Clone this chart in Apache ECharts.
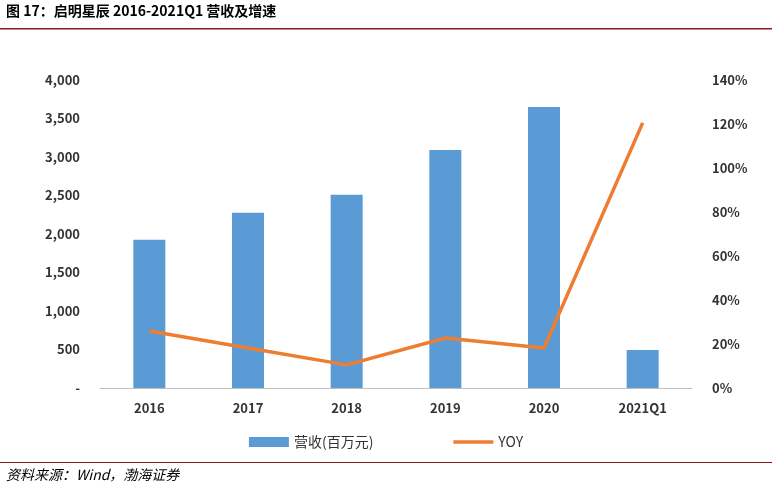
<!DOCTYPE html>
<html lang="zh">
<head>
    <meta charset="utf-8">
    <title>启明星辰 2016-2021Q1 营收及增速</title>
    <style>
        body{margin:0; background:#fff;}
        #container{width: 772px; height: 492px;}
    </style>
</head>
<body>
<div id="container"></div>
<script src="https://cdn.jsdelivr.net/npm/echarts@6/dist/echarts.min.js"></script>
<script>
var years = ['2016', '2017', '2018', '2019', '2020', '2021Q1'];
var revenue = [1925, 2275, 2510, 3090, 3650, 495];
var yoy = [25.9, 18.2, 10.5, 22.7, 18.2, 120.5];

var myChart = echarts.init(document.getElementById('container'));
var font = '"Noto Sans CJK SC", sans-serif';
var options = {
    textStyle: {fontFamily: font},
    graphic: [
        {type: 'text', left: 6, top: 4, style: {text: '图 17：启明星辰 2016-2021Q1 营收及增速', font: 'bold 14px "Noto Sans CJK SC"', fill: '#000'}},
        {type: 'rect', shape: {x: 0, y: 28, width: 772, height: 1.5}, style: {fill: '#8b1a1a'}},
        {type: 'rect', shape: {x: 0, y: 462, width: 772, height: 1}, style: {fill: '#8b1a1a'}},
        {type: 'text', left: 6, top: 468, style: {text: '资料来源：Wind，渤海证券', font: 'italic 14px "Noto Sans CJK SC"', fill: '#000'}}
    ],
    grid: {left: 100, right: 80, top: 80, bottom: 104},
    legend: {
        bottom: 38, left: 'center', itemGap: 80, itemWidth: 40, itemHeight: 10,
        textStyle: {fontSize: 14, color: '#333'},
        data: [
            {name: '营收(百万元)', icon: 'rect'},
            {name: 'YOY', icon: 'path://M0,0 L40,0 L40,3.5 L0,3.5 Z', itemStyle: {color: '#ed7d31'}}
        ]
    },
    xAxis: {
        type: 'category', data: years,
        axisTick: {show: false},
        axisLine: {lineStyle: {color: '#bfbfbf'}},
        axisLabel: {color: '#333', fontSize: 13, fontWeight: 'bold', margin: 14}
    },
    yAxis: [
        {
            type: 'value', min: 0, max: 4000, interval: 500,
            splitLine: {show: false},
            axisLabel: {color: '#333', fontSize: 13, fontWeight: 'bold', margin: 20,
                formatter: function (v) { return v === 0 ? '-' : v.toLocaleString('en-US'); }}
        },
        {
            type: 'value', min: 0, max: 140, interval: 20,
            splitLine: {show: false},
            axisLabel: {color: '#333', fontSize: 13, fontWeight: 'bold', margin: 20, formatter: '{value}%'}
        }
    ],
    series: [
        {name: '营收(百万元)', type: 'bar', data: revenue, barWidth: 32, itemStyle: {color: '#5b9bd5'}},
        {name: 'YOY', type: 'line', yAxisIndex: 1, data: yoy, symbol: 'none',
            lineStyle: {color: '#ed7d31', width: 3.5}, itemStyle: {color: '#ed7d31'}}
    ]
};
myChart.setOption(options);
</script>
</body>
</html>
